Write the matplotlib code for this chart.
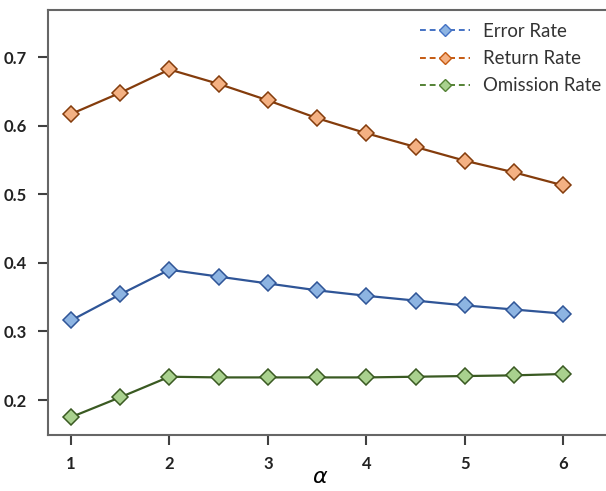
import matplotlib
matplotlib.use('Agg')
import matplotlib.pyplot as plt
from matplotlib.lines import Line2D

alpha = [1, 1.5, 2, 2.5, 3, 3.5, 4, 4.5, 5, 5.5, 6]
error_rate = [0.316, 0.354, 0.390, 0.380, 0.370, 0.360, 0.352, 0.345, 0.338, 0.332, 0.326]
return_rate = [0.617, 0.648, 0.682, 0.661, 0.637, 0.611, 0.589, 0.569, 0.549, 0.532, 0.513]
omission_rate = [0.175, 0.204, 0.234, 0.233, 0.233, 0.233, 0.233, 0.234, 0.235, 0.236, 0.238]
names = ['Error Rate', 'Return Rate', 'Omission Rate']

plt.rcParams['font.family'] = ['Lato', 'DejaVu Sans']

# line color, marker face, legend line color
styles = [('#2F5597', '#8DB4E2', '#4472C4'),
          ('#843C0C', '#F4B183', '#C55A11'),
          ('#3A5A22', '#A9D18E', '#548235')]

fig = plt.figure(figsize=(6.06, 4.91), dpi=100)
# axes runs a bit past the right edge, like the original crop
ax = fig.add_axes([0.079, 0.114, 0.935, 0.866])

handles = []
for ys, name, (lc, fc, leg_c) in zip([error_rate, return_rate, omission_rate], names, styles):
    ax.plot(alpha, ys, color=lc, lw=1.6, marker='D', markersize=8,
            markerfacecolor=fc, markeredgecolor=lc, markeredgewidth=1.1)
    handles.append(Line2D([], [], color=leg_c, lw=1.4, ls=(0, (3, 2)), marker='D', markersize=6.5,
                          markerfacecolor=fc, markeredgecolor=leg_c, markeredgewidth=1.0))

ax.set_xlim(0.766, 6.52)
ax.set_ylim(0.149, 0.769)
ax.set_xticks([1, 2, 3, 4, 5, 6])
ax.set_yticks([0.2, 0.3, 0.4, 0.5, 0.6, 0.7])
ax.set_xticklabels(['1', '2', '3', '4', '5', '6'], fontweight='bold')
ax.set_yticklabels(['0.2', '0.3', '0.4', '0.5', '0.6', '0.7'], fontweight='bold')
ax.tick_params(labelsize=12, length=7, width=1.5, color='#404040', labelcolor='#222222', pad=8)

for sp in ax.spines.values():
    sp.set_color('#666666')
    sp.set_linewidth(1.5)
ax.spines['right'].set_visible(False)

ax.set_xlabel(r'$\alpha$', fontsize=16, labelpad=0)
ax.xaxis.set_label_coords(0.48, -0.075)

leg = ax.legend(handles, names, loc='upper left', frameon=False, fontsize=13.4,
                handlelength=2.7, handletextpad=0.7, labelspacing=0.55, borderpad=0,
                borderaxespad=0, labelcolor='#333333',
                bbox_to_anchor=(420 / 606, 1 - 23 / 491), bbox_transform=fig.transFigure)

fig.savefig('out.png', dpi=100)
